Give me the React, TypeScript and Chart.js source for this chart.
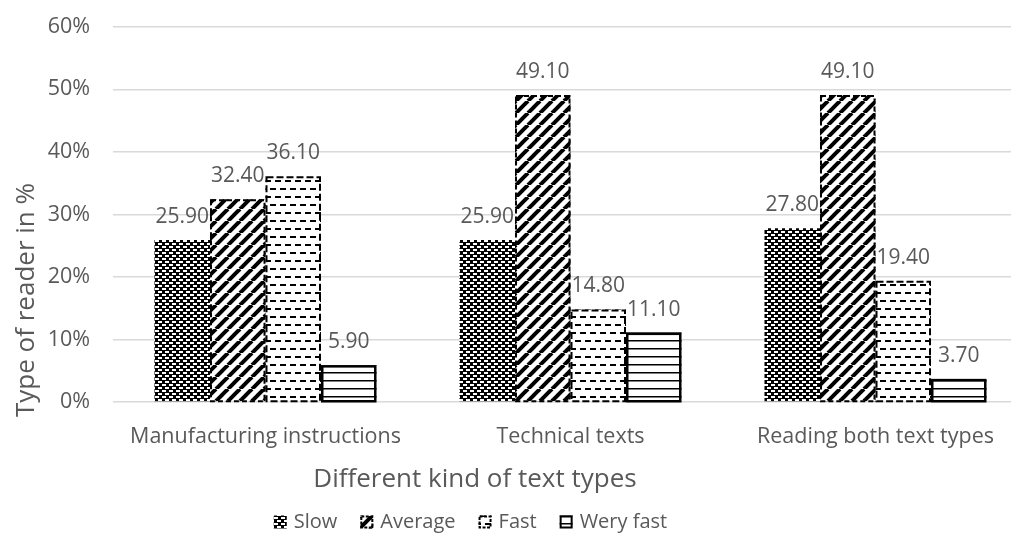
import React, { useEffect, useRef } from 'react';
import { Chart, registerables } from 'chart.js';

Chart.register(...registerables);

const categories = ['Manufacturing instructions', 'Technical texts', 'Reading both text types'];
const seriesNames = ['Slow', 'Average', 'Fast', 'Wery fast'];
const slow = [25.9, 25.9, 27.8];
const average = [32.4, 49.1, 49.1];
const fast = [36.1, 14.8, 19.4];
const weryFast = [5.9, 11.1, 3.7];
const yMin = 0;
const yMax = 60;
const yStep = 10;
const yTitle = 'Type of reader in %';
const xTitle = 'Different kind of text types';

const FONT = '"Open Sans", sans-serif';
const GRAY = '#595959';
const SHIFT = 7;

function makePattern(kind: string): CanvasPattern | string {
  const c = document.createElement('canvas');
  let ctx: CanvasRenderingContext2D;
  if (kind === 'slow') {
    c.width = 7; c.height = 6;
    ctx = c.getContext('2d')!;
    ctx.fillStyle = '#000'; ctx.fillRect(0, 0, 7, 6);
    ctx.fillStyle = '#fff';
    ctx.fillRect(1, 1, 4, 2);
    ctx.fillRect(4, 4, 3, 2);
    ctx.fillRect(0, 4, 1, 2);
  } else if (kind === 'average') {
    c.width = 12; c.height = 12;
    ctx = c.getContext('2d')!;
    ctx.fillStyle = '#fff'; ctx.fillRect(0, 0, 12, 12);
    ctx.strokeStyle = '#000'; ctx.lineWidth = 4;
    for (const x of [-12, 0, 12]) {
      ctx.beginPath(); ctx.moveTo(x, 12); ctx.lineTo(x + 12, 0); ctx.stroke();
    }
  } else if (kind === 'fast') {
    c.width = 10; c.height = 16;
    ctx = c.getContext('2d')!;
    ctx.fillStyle = '#fff'; ctx.fillRect(0, 0, 10, 16);
    ctx.fillStyle = '#000';
    ctx.fillRect(0, 3, 6, 2);
    ctx.fillRect(5, 11, 5, 2);
    ctx.fillRect(0, 11, 1, 2);
  } else {
    c.width = 4; c.height = 8;
    ctx = c.getContext('2d')!;
    ctx.fillStyle = '#fff'; ctx.fillRect(0, 0, 4, 8);
    ctx.fillStyle = '#000';
    ctx.fillRect(0, 3, 4, 1.5);
  }
  return ctx.createPattern(c, 'repeat') || '#000';
}

const borderStyles = [
  { width: 0, dash: [] as number[] },
  { width: 2, dash: [5, 3] },
  { width: 2, dash: [7, 3] },
  { width: 2.5, dash: [] as number[] },
];

export default function App() {
  const ref = useRef<HTMLCanvasElement | null>(null);

  useEffect(() => {
    if (!ref.current) return;
    const kinds = ['slow', 'average', 'fast', 'wery'];
    const patterns = kinds.map((k) => makePattern(k));
    const values = [slow, average, fast, weryFast];

    const overlay = {
      id: 'overlay',
      afterDatasetsDraw(chart: any) {
        const ctx = chart.ctx as CanvasRenderingContext2D;
        ctx.save();
        chart.data.datasets.forEach((ds: any, di: number) => {
          const meta = chart.getDatasetMeta(di);
          meta.data.forEach((bar: any, i: number) => {
            const p = bar.getProps(['x', 'y', 'base', 'width'], true);
            const left = p.x - p.width / 2;
            const bs = borderStyles[di];
            if (bs.width > 0) {
              ctx.strokeStyle = '#000';
              ctx.lineWidth = bs.width;
              ctx.setLineDash(bs.dash);
              ctx.strokeRect(left + bs.width / 2, p.y + bs.width / 2, p.width - bs.width, p.base - p.y - bs.width / 2);
              ctx.setLineDash([]);
            }
            ctx.fillStyle = GRAY;
            ctx.font = `21px ${FONT}`;
            ctx.textAlign = 'center';
            ctx.textBaseline = 'middle';
            ctx.fillText(Number(ds.data[i]).toFixed(2), p.x, p.y - 23);
          });
        });
        ctx.restore();
      },
      afterDraw(chart: any) {
        const ctx = chart.ctx as CanvasRenderingContext2D;
        ctx.save();
        ctx.translate(0, SHIFT);
        ctx.fillStyle = GRAY;
        ctx.font = `26px ${FONT}`;
        ctx.textAlign = 'center';
        ctx.textBaseline = 'middle';
        ctx.translate(27, 300);
        ctx.rotate(-Math.PI / 2);
        ctx.fillText(yTitle, 0, 0);
        ctx.restore();
        ctx.save();
        ctx.translate(0, SHIFT);
        ctx.fillStyle = GRAY;
        ctx.font = `26px ${FONT}`;
        ctx.textAlign = 'center';
        ctx.textBaseline = 'middle';
        ctx.fillText(xTitle, 475, 480);
        // legend
        ctx.font = `20px ${FONT}`;
        const box = 13;
        const gapBox = 7;
        const gapItem = 23;
        const widths = seriesNames.map((n) => box + gapBox + ctx.measureText(n).width);
        const total = widths.reduce((a, b) => a + b, 0) + gapItem * (seriesNames.length - 1);
        let x = 470.5 - total / 2;
        const cy = 522;
        seriesNames.forEach((n, i) => {
          ctx.fillStyle = patterns[i] as any;
          ctx.fillRect(x, cy - box / 2, box, box);
          ctx.strokeStyle = '#000';
          ctx.lineWidth = 2;
          ctx.setLineDash(i === 1 || i === 2 ? [3, 1.5] : []);
          if (i > 0) ctx.strokeRect(x + 1, cy - box / 2 + 1, box - 2, box - 2);
          ctx.setLineDash([]);
          ctx.fillStyle = GRAY;
          ctx.textAlign = 'left';
          ctx.fillText(n, x + box + gapBox, cy);
          x += widths[i] + gapItem;
        });
        ctx.restore();
      },
    };

    const chart = new Chart(ref.current, {
      type: 'bar',
      data: {
        labels: categories,
        datasets: seriesNames.map((name, i) => ({
          label: name,
          data: values[i],
          backgroundColor: patterns[i] as any,
          borderWidth: 0,
          categoryPercentage: 0.728,
          barPercentage: 1,
        })),
      },
      options: {
        responsive: false,
        animation: false,
        layout: { padding: { top: 8, right: 2, left: 0, bottom: 0 } },
        plugins: {
          legend: { display: false },
          tooltip: { enabled: false },
          title: { display: false },
        },
        scales: {
          x: {
            grid: { display: false, drawTicks: false },
            border: { display: false },
            ticks: { color: GRAY, font: { family: FONT, size: 21.5 }, padding: 22, maxRotation: 0 },
            afterFit: (s: any) => { s.height = 141; },
          },
          y: {
            min: yMin,
            max: yMax,
            grid: { color: '#d9d9d9', lineWidth: 1.5, drawTicks: false },
            border: { display: false },
            ticks: {
              stepSize: yStep,
              color: GRAY,
              font: { family: FONT, size: 21.5, lineHeight: 1 },
              padding: 23,
              callback: (v: any) => `${v}%`,
            },
            afterFit: (s: any) => { s.width = 113; },
          },
        },
      },
      plugins: [overlay],
    });
    return () => chart.destroy();
  }, []);

  return (
    <div style={{ position: 'fixed', left: 0, top: 0, width: 1011, height: 543, overflow: 'hidden', background: '#fff' }}>
      <canvas ref={ref} width={1030} height={543 + SHIFT} style={{ display: 'block', position: 'absolute', left: 0, top: -SHIFT }} />
    </div>
  );
}
